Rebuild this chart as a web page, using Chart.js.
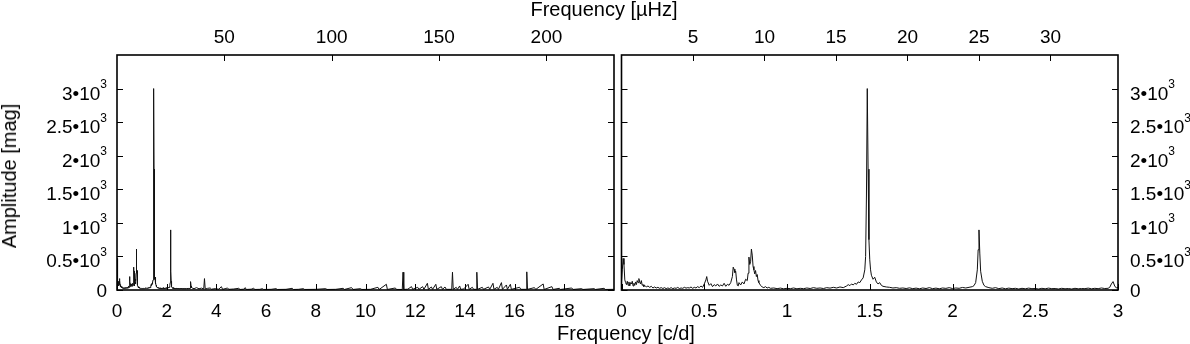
<!DOCTYPE html>
<html lang="en">

<head>
    <meta charset="utf-8">
    <title>Amplitude spectrum</title>
    <script src="https://cdn.jsdelivr.net/npm/chart.js@4.4.1/dist/chart.umd.min.js"></script>
    <style>
        body { margin: 0; background: #fff; font-family: "Liberation Sans", Arial, sans-serif; font-size: 20px; color: #000; }
        #wrap { position: relative; width: 1190px; height: 344px; overflow: hidden; }
        canvas { position: absolute; top: 0; }
        .title { position: absolute; line-height: 20px; white-space: nowrap; }
    </style>
</head>

<body>
    <div id="wrap">
        <canvas id="wide" width="618" height="344" style="left: 0;"></canvas>
        <canvas id="zoom" width="600" height="344" style="left: 590px;"></canvas>
        <div class="title" style="left: 604px; top: -1px; transform: translateX(-50%);">Frequency [µHz]</div>
        <div class="title" style="left: 626px; top: 323px; transform: translateX(-50%);">Frequency [c/d]</div>
        <div class="title" style="left: 9px; top: 176px; transform: translate(-50%, -50%) rotate(-90deg);">Amplitude [mag]</div>
    </div>
    <script>
        // 1 c/d = 11.574 µHz
        const UHZ_PER_CD = 11.574;

        // amplitude spectrum 0..3 c/d (shown in the right panel, also the start of the left one)
        const ZOOM_F = [0.000, 0.005, 0.010, 0.015, 0.020, 0.025, 0.030, 0.035, 0.040, 0.045, 0.050, 0.055, 0.060, 0.065, 0.070, 0.075, 0.080, 0.085, 0.090, 0.095,
            0.100, 0.105, 0.110, 0.115, 0.120, 0.125, 0.130, 0.135, 0.140, 0.150, 0.160, 0.170, 0.180, 0.190, 0.200, 0.210, 0.220, 0.230, 0.240, 0.250,
            0.260, 0.270, 0.280, 0.290, 0.300, 0.310, 0.320, 0.330, 0.340, 0.350, 0.360, 0.370, 0.380, 0.390, 0.400, 0.410, 0.420, 0.430, 0.440, 0.450,
            0.460, 0.470, 0.480, 0.490, 0.500, 0.510, 0.515, 0.520, 0.530, 0.540, 0.550, 0.560, 0.570, 0.580, 0.590, 0.600, 0.610, 0.620, 0.630, 0.640,
            0.650, 0.660, 0.670, 0.675, 0.680, 0.685, 0.690, 0.695, 0.700, 0.705, 0.710, 0.720, 0.730, 0.740, 0.750, 0.760, 0.765, 0.770, 0.775, 0.780,
            0.785, 0.790, 0.795, 0.800, 0.805, 0.810, 0.815, 0.820, 0.825, 0.830, 0.840, 0.850, 0.860, 0.870, 0.880, 0.890, 0.900, 0.920, 0.940, 0.960,
            0.980, 1.000, 1.020, 1.040, 1.060, 1.080, 1.100, 1.120, 1.140, 1.160, 1.180, 1.200, 1.220, 1.240, 1.260, 1.280, 1.300, 1.320, 1.340, 1.360,
            1.370, 1.380, 1.390, 1.400, 1.410, 1.420, 1.430, 1.440, 1.450, 1.460, 1.470, 1.475, 1.480, 1.485, 1.490, 1.495, 1.500, 1.505, 1.510, 1.520,
            1.530, 1.540, 1.550, 1.560, 1.570, 1.580, 1.600, 1.620, 1.640, 1.660, 1.680, 1.700, 1.720, 1.740, 1.760, 1.780, 1.800, 1.820, 1.840, 1.860,
            1.880, 1.900, 1.920, 1.940, 1.960, 1.980, 2.000, 2.020, 2.040, 2.060, 2.080, 2.100, 2.120, 2.130, 2.140, 2.150, 2.155, 2.160, 2.165, 2.170,
            2.180, 2.190, 2.200, 2.220, 2.240, 2.260, 2.280, 2.300, 2.320, 2.340, 2.360, 2.380, 2.400, 2.420, 2.440, 2.460, 2.480, 2.500, 2.520, 2.540,
            2.560, 2.580, 2.600, 2.620, 2.640, 2.660, 2.680, 2.700, 2.720, 2.740, 2.760, 2.780, 2.800, 2.820, 2.840, 2.860, 2.880, 2.900, 2.920, 2.940,
            2.950, 2.960, 2.970, 2.980, 2.990, 3.000];
        const ZOOM_A = [120, 300, 470, 380, 150, 110, 80, 130, 70, 120, 60, 110, 90, 130, 60, 100, 70, 120, 80, 140,
            110, 170, 120, 90, 140, 70, 80, 50, 70, 45, 60, 40, 55, 30, 45, 30, 40, 25, 35, 22,
            35, 20, 30, 22, 35, 20, 30, 25, 38, 22, 30, 25, 40, 28, 35, 30, 45, 25, 40, 30,
            50, 35, 60, 40, 90, 150, 200, 130, 70, 95, 50, 80, 60, 90, 55, 75, 60, 100, 55, 85,
            70, 110, 200, 340, 310, 260, 280, 150, 70, 60, 110, 75, 120, 90, 160, 140, 250, 490, 380, 420,
            610, 520, 350, 300, 240, 290, 200, 230, 140, 110, 70, 45, 35, 50, 30, 40, 25, 30, 20, 28,
            18, 25, 20, 30, 18, 25, 20, 30, 22, 35, 25, 30, 22, 35, 28, 40, 30, 45, 35, 60,
            80, 65, 90, 75, 100, 85, 120, 110, 150, 180, 300, 500, 1400, 3000, 1800, 750, 450, 300, 220, 160,
            190, 120, 90, 110, 70, 55, 45, 40, 30, 35, 25, 30, 22, 32, 20, 28, 18, 30, 22, 35,
            20, 28, 18, 30, 24, 35, 22, 30, 25, 38, 30, 40, 50, 65, 110, 300, 600, 895, 550, 280,
            130, 70, 50, 35, 25, 35, 20, 30, 18, 28, 20, 25, 15, 25, 18, 28, 20, 22, 15, 25,
            18, 28, 20, 22, 15, 25, 18, 22, 15, 25, 18, 22, 20, 28, 18, 25, 20, 30, 22, 25,
            40, 90, 125, 60, 30, 40];

        // amplitude spectrum 3..20 c/d (left panel only)
        const WIDE_F = [3.02, 3.1, 3.2, 3.3, 3.4, 3.49, 3.52, 3.55, 3.65, 3.75, 3.8, 3.95, 4.1, 4.2, 4.25, 4.35, 4.45, 4.5, 4.7, 4.9,
            4.95, 5.1, 5.16, 5.2, 5.4, 5.5, 5.55, 5.75, 5.85, 5.9, 6.2, 6.4, 6.45, 6.8, 7.05, 7.1, 7.3, 7.5, 7.55, 8.0,
            8.4, 8.45, 8.8, 9.1, 9.15, 9.44, 9.5, 9.8, 9.85, 10.2, 10.5, 10.55, 10.84, 10.88, 11.2, 11.25, 11.48, 11.51, 11.54, 11.7,
            11.85, 11.9, 12.1, 12.15, 12.3, 12.35, 12.49, 12.53, 12.65, 12.7, 12.83, 12.87, 13.05, 13.1, 13.2, 13.25, 13.47, 13.5, 13.53, 13.65,
            13.7, 13.79, 13.83, 13.95, 14.13, 14.17, 14.3, 14.35, 14.45, 14.48, 14.51, 14.7, 14.75, 14.95, 15.0, 15.13, 15.17, 15.3, 15.35, 15.47,
            15.51, 15.67, 15.71, 15.83, 15.87, 16.2, 16.25, 16.46, 16.49, 16.52, 16.8, 16.85, 17.15, 17.19, 17.5, 17.55, 17.8, 17.85, 18.3, 18.35,
            18.7, 18.75, 19.2, 19.25, 19.6, 19.65, 20];
        const WIDE_A = [30, 20, 35, 18, 28, 15, 170, 15, 25, 30, 12, 20, 12, 50, 10, 20, 30, 10, 15, 25,
            8, 12, 35, 8, 12, 25, 8, 10, 20, 8, 10, 20, 8, 10, 25, 8, 10, 20, 8, 10,
            20, 8, 10, 25, 8, 35, 8, 20, 8, 10, 40, 8, 85, 8, 30, 8, 8, 265, 8, 12,
            50, 10, 40, 10, 50, 10, 100, 10, 45, 10, 85, 10, 50, 10, 45, 10, 10, 265, 10, 40,
            10, 60, 10, 15, 85, 10, 40, 10, 10, 265, 10, 40, 10, 45, 10, 100, 10, 40, 10, 110,
            10, 75, 10, 85, 10, 40, 10, 10, 270, 10, 35, 8, 90, 8, 50, 8, 25, 8, 30, 8,
            20, 8, 20, 8, 25, 8, 10];

        // axis ticks
        const Y_TICKS = [0, 500, 1000, 1500, 2000, 2500, 3000];
        const Y_BASES = ['0', '0.5•10', '1•10', '1.5•10', '2•10', '2.5•10', '3•10'];
        const Y_EXPS = ['', '3', '3', '3', '3', '3', '3'];
        const WIDE_CD_TICKS = [0, 2, 4, 6, 8, 10, 12, 14, 16, 18];
        const WIDE_UHZ_TICKS = [50, 100, 150, 200];
        const ZOOM_CD_TICKS = [0, 0.5, 1, 1.5, 2, 2.5, 3];
        const ZOOM_UHZ_TICKS = [5, 10, 15, 20, 25, 30];

        const FONT = '"Liberation Sans", Arial, sans-serif';
        Chart.defaults.font.family = FONT;
        Chart.defaults.font.size = 19;
        Chart.defaults.color = '#000';

        const toPoints = (fs, as) => fs.map((f, i) => ({ x: f, y: as[i] }));

        // gnuplot style: frame, ticks pointing inwards, y labels with a raised exponent
        const framePlugin = {
            id: 'frame',
            afterDraw(chart) {
                const { ctx, chartArea: a, scales } = chart;
                const side = scales.y.position;
                ctx.save();
                ctx.strokeStyle = '#000';
                ctx.lineWidth = 1;
                ctx.beginPath();
                scales.x.ticks.forEach(t => {
                    const px = Math.round(scales.x.getPixelForValue(t.value)) + 0.5;
                    ctx.moveTo(px, a.bottom); ctx.lineTo(px, a.bottom - 6);
                });
                scales.x2.ticks.forEach(t => {
                    const px = Math.round(scales.x2.getPixelForValue(t.value)) + 0.5;
                    ctx.moveTo(px, a.top); ctx.lineTo(px, a.top + 6);
                });
                scales.y.ticks.forEach(t => {
                    const py = Math.round(scales.y.getPixelForValue(t.value)) + 0.5;
                    ctx.moveTo(a.left, py); ctx.lineTo(a.left + 6, py);
                    ctx.moveTo(a.right, py); ctx.lineTo(a.right - 6, py);
                });
                ctx.stroke();
                ctx.lineWidth = 1.6;
                ctx.strokeRect(a.left, a.top, a.right - a.left, a.bottom - a.top);

                ctx.fillStyle = '#000';
                ctx.textBaseline = 'alphabetic';
                ctx.textAlign = 'left';
                Y_TICKS.forEach((v, i) => {
                    const py = scales.y.getPixelForValue(v);
                    const base = Y_BASES[i];
                    const sup = Y_EXPS[i];
                    ctx.font = '19px ' + FONT;
                    const wb = ctx.measureText(base).width;
                    ctx.font = '12px ' + FONT;
                    const ws = sup ? ctx.measureText(sup).width : 0;
                    const x0 = side === 'left' ? a.left - 10 - wb - ws : a.right + 12;
                    const by = py + (sup ? 11 : 7);
                    ctx.font = '19px ' + FONT;
                    ctx.fillText(base, x0, by);
                    if (sup) {
                        ctx.font = '12px ' + FONT;
                        ctx.fillText(sup, x0 + wb, by - 11.5);
                    }
                });
                ctx.restore();
            }
        };

        const noPad = s => { s.paddingLeft = 0; s.paddingRight = 0; };

        const makeConfig = (points, cdMax, cdTicks, uhzTicks, yPos, yWidth, padding) => ({
            type: 'line',
            data: {
                datasets: [{
                    data: points,
                    borderColor: '#111',
                    borderWidth: 1,
                    pointRadius: 0,
                    tension: 0,
                }]
            },
            options: {
                responsive: false,
                animation: false,
                events: [],
                layout: { padding: padding },
                plugins: { legend: { display: false }, tooltip: { enabled: false } },
                scales: {
                    x: {
                        type: 'linear',
                        position: 'bottom',
                        min: 0,
                        max: cdMax,
                        afterBuildTicks: s => { s.ticks = cdTicks.map(v => ({ value: v })); },
                        afterFit: s => { s.height = 54; noPad(s); },
                        ticks: { autoSkip: false, maxRotation: 0, padding: 10, callback: v => String(v) },
                        grid: { display: false, drawTicks: false },
                        border: { display: false },
                    },
                    x2: {
                        type: 'linear',
                        position: 'top',
                        min: 0,
                        max: cdMax * UHZ_PER_CD,
                        afterBuildTicks: s => { s.ticks = uhzTicks.map(v => ({ value: v })); },
                        afterFit: s => { s.height = 55; noPad(s); },
                        ticks: { autoSkip: false, maxRotation: 0, padding: 6, callback: v => String(v) },
                        grid: { display: false, drawTicks: false },
                        border: { display: false },
                    },
                    y: {
                        type: 'linear',
                        position: yPos,
                        min: 0,
                        max: 3500,
                        afterBuildTicks: s => { s.ticks = Y_TICKS.map(v => ({ value: v })); },
                        afterFit: s => { s.width = yWidth; s.paddingTop = 0; s.paddingBottom = 0; },
                        ticks: { display: false },
                        grid: { display: false, drawTicks: false },
                        border: { display: false },
                    },
                }
            },
            plugins: [framePlugin]
        });

        const wideChart = new Chart(
            document.getElementById('wide'),
            makeConfig(toPoints(ZOOM_F.concat(WIDE_F), ZOOM_A.concat(WIDE_A)), 20, WIDE_CD_TICKS, WIDE_UHZ_TICKS,
                'left', 117, { left: 0, right: 4, top: 0, bottom: 0 })
        );

        const zoomChart = new Chart(
            document.getElementById('zoom'),
            makeConfig(toPoints(ZOOM_F, ZOOM_A), 3, ZOOM_CD_TICKS, ZOOM_UHZ_TICKS,
                'right', 72, { left: 31.5, right: 0, top: 0, bottom: 0 })
        );
    </script>
</body>

</html>
